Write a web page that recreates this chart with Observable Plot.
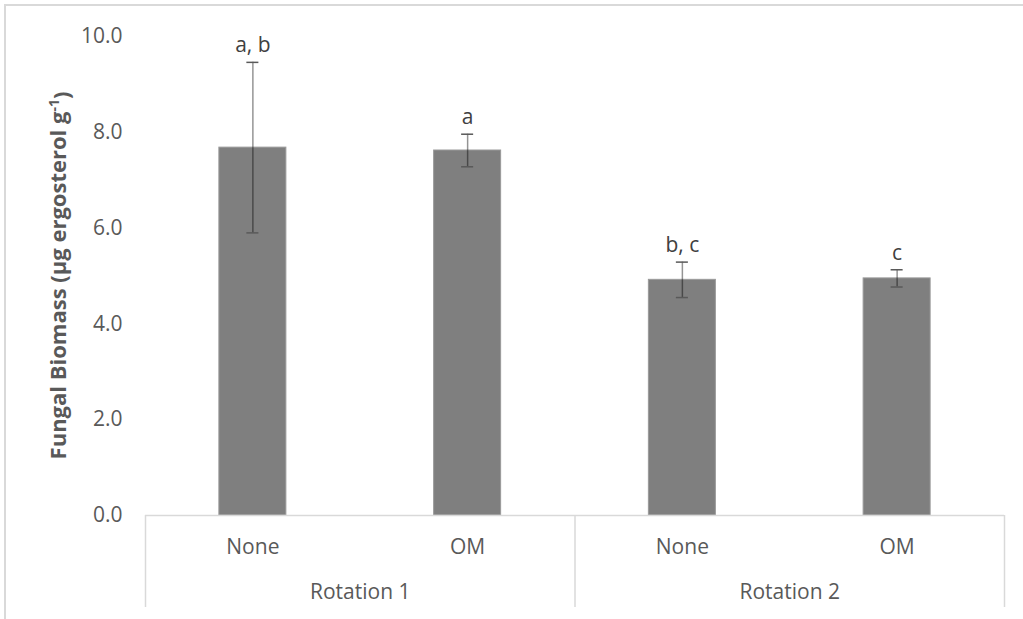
<!DOCTYPE html>
<html><head><meta charset="utf-8">
<script src="https://cdn.jsdelivr.net/npm/d3@7"></script>
<script src="https://cdn.jsdelivr.net/npm/@observablehq/plot@0.6"></script>
<style>
html,body{margin:0;padding:0;background:#fff;}
#wrap{position:relative;width:1023px;height:619px;overflow:hidden;}
#chart{position:absolute;left:0;top:0;}
#border{position:absolute;left:4px;top:4px;width:1100px;height:700px;border:2px solid #d9d9d9;box-sizing:border-box;pointer-events:none;}
</style></head><body>
<div id="wrap"><div id="chart"></div><div id="border"></div></div>
<script>
const rotations = ["Rotation 1", "Rotation 1", "Rotation 2", "Rotation 2"];
const treatments = ["None", "OM", "None", "OM"];
const means = [7.68, 7.62, 4.92, 4.95];
const errors = [1.78, 0.34, 0.37, 0.18];
const letters = ["a, b", "a", "b, c", "c"];
const yTicks = [0, 2, 4, 6, 8, 10];
const yLabel = "Fungal Biomass (µg ergosterol g";

const data = means.map((m, i) => ({
  i, rotation: rotations[i], treatment: treatments[i], mean: m,
  lo: m - errors[i], hi: m + errors[i], letter: letters[i]
}));
const groups = d3.groups(data, d => d.rotation).map(([name, rows]) => ({
  name,
  center: d3.mean(rows, d => d.i),
  start: d3.min(rows, d => d.i) - 0.5,
  end: d3.max(rows, d => d.i) + 0.5
}));
const boundaries = Array.from(new Set(groups.flatMap(g => [g.start, g.end])));

const barHalf = 0.156, capHalf = 0.028;
const grid = "#d9d9d9";

const plot = Plot.plot({
  width: 1023, height: 619,
  marginLeft: 145, marginRight: 19, marginTop: 36, marginBottom: 104,
  style: {fontFamily: "Open Sans", fontSize: "21px", color: "#595959", background: "transparent"},
  x: {type: "linear", domain: [-0.5, 3.5], axis: null},
  y: {domain: [0, 10], axis: null},
  marks: [
    Plot.rectY(data, {x1: d => d.i - barHalf, x2: d => d.i + barHalf, y: "mean", fill: "#7f7f7f", stroke: "#9a9a9a", strokeWidth: 1}),
    Plot.ruleY([0], {stroke: grid, strokeWidth: 1.5}),
    Plot.ruleX(data, {x: "i", y1: "lo", y2: "hi", stroke: "#000", strokeOpacity: 0.42, strokeWidth: 1.5}),
    Plot.ruleY(data, {y: "hi", x1: d => d.i - capHalf, x2: d => d.i + capHalf, stroke: "#595959", strokeWidth: 1.5}),
    Plot.ruleY(data, {y: "lo", x1: d => d.i - capHalf, x2: d => d.i + capHalf, stroke: "#595959", strokeWidth: 1.5}),
    Plot.text(data, {x: "i", y: "hi", text: "letter", dy: -17, fill: "#404040", fontSize: 21}),
    Plot.axisY({ticks: yTicks, tickFormat: d3.format(".1f"), tickSize: 0, tickPadding: 23, label: null, fill: "#595959"}),
    Plot.axisX({ticks: data.map(d => d.i), tickFormat: i => treatments[i], tickSize: 0, tickPadding: 24, label: null, fill: "#595959"}),
    Plot.axisX({ticks: boundaries, tickFormat: () => "", tickSize: 92, stroke: grid, strokeWidth: 1.5, label: null}),
    Plot.axisX({ticks: groups.map(g => g.center), tickFormat: c => groups.find(g => g.center === c).name, tickSize: 0, tickPadding: 69, label: null, fill: "#595959"})
  ]
});

const svg = d3.select(plot);
const lab = svg.append("text")
  .attr("transform", "translate(58,275.5) rotate(-90)")
  .attr("text-anchor", "middle")
  .attr("dy", "0.35em")
  .attr("fill", "#595959")
  .attr("font-weight", "bold")
  .attr("font-size", "22px")
  .attr("font-family", "Open Sans");
lab.append("tspan").text(yLabel);
lab.append("tspan").attr("dy", "-0.45em").attr("font-size", "14px").text("-1");
lab.append("tspan").attr("dy", "0.45em").text(")");

document.getElementById("chart").appendChild(plot);
</script>
</body></html>
